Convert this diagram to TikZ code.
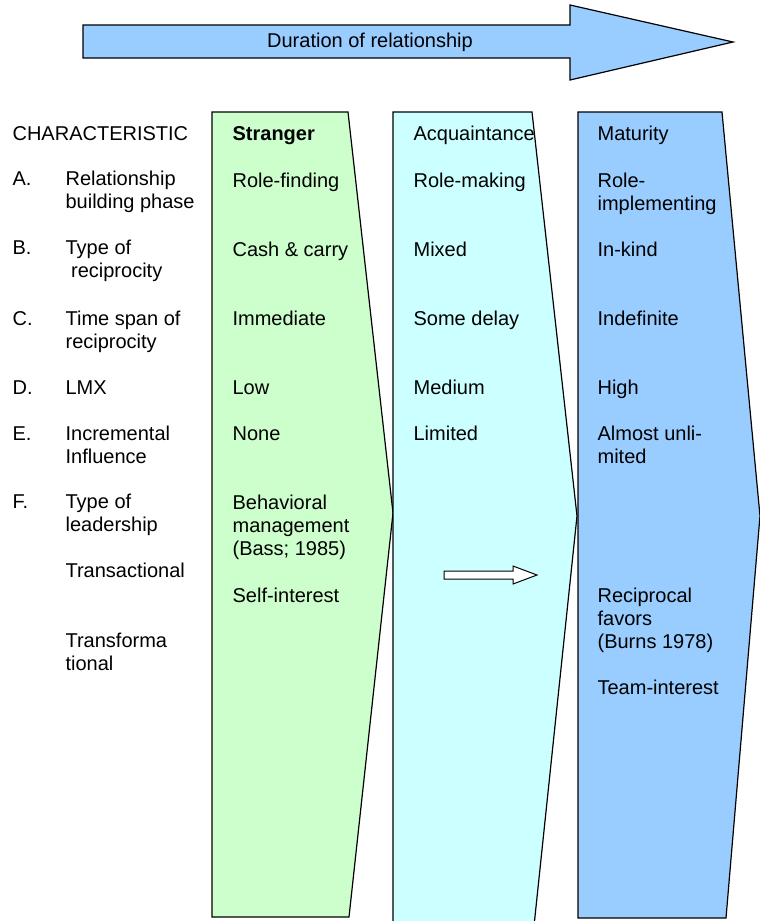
\documentclass[tikz,border=0pt]{standalone}
\usepackage{fontspec}
\setmainfont{Liberation Sans}
\usepackage{xcolor}
\usepackage{tikz}
\definecolor{strangergreen}{HTML}{CCFFCC}
\definecolor{acqcyan}{HTML}{CCFFFF}
\definecolor{matblue}{HTML}{99CCFF}

\begin{document}
\begin{tikzpicture}[x=1pt,y=-1pt,line width=1.2pt,line join=miter,
  lbl/.style={anchor=base west,align=left,inner sep=0pt,font=\fontsize{20}{23}\selectfont},
  phase/.style={draw=black,line width=1.2pt}]
\useasboundingbox (0,0) rectangle (760,921);

\filldraw[phase,fill=matblue] (83,25) -- (570,25) -- (570,5) -- (733,42) -- (570,80) -- (570,58) -- (83,58) -- cycle;
\node[lbl,anchor=center] (dur) at (370,42) {Duration of relationship};

\filldraw[phase,fill=strangergreen] (212,112) -- (348,112) -- (393,513) -- (349,917) -- (212,917) -- cycle;
\filldraw[phase,fill=acqcyan] (393,112) -- (532,112) -- (577,516) -- (534,926) -- (393,926) -- cycle;
\filldraw[phase,fill=matblue] (578,112) -- (722,112) -- (760,516) -- (726,918) -- (578,918) -- cycle;

\filldraw[phase,line width=1pt,fill=white] (444,571) -- (513,571) -- (513,566) -- (537,575) -- (513,584) -- (513,579) -- (444,579) -- cycle;

\node[lbl] (char) at (12,140) {CHARACTERISTIC};
\node[lbl] (a) at (12,185) {A.};
\node[lbl] (atxt) at (65,208) {Relationship\\building phase};
\node[lbl] (b) at (12,254) {B.};
\node[lbl] (btxt) at (65,277) {Type of\\\ reciprocity};
\node[lbl] (c) at (12,325) {C.};
\node[lbl] (ctxt) at (65,348) {Time span of\\reciprocity};
\node[lbl] (d) at (12,394) {D.};
\node[lbl] (dtxt) at (65,394) {LMX};
\node[lbl] (e) at (12,440) {E.};
\node[lbl] (etxt) at (65,463) {Incremental\\Influence};
\node[lbl] (f) at (12,508) {F.};
\node[lbl] (ftxt) at (65,531) {Type of\\leadership};
\node[lbl] (trans) at (65,577) {Transactional};
\node[lbl] (transf) at (65,670) {Transforma\\tional};

\node[lbl] (st) at (232,140) {\bfseries Stranger};
\node[lbl] (sta) at (232,187) {Role-finding};
\node[lbl] (stb) at (232,256) {Cash \& carry};
\node[lbl] (stc) at (232,325) {Immediate};
\node[lbl] (std) at (232,394) {Low};
\node[lbl] (ste) at (232,440) {None};
\node[lbl] (stf) at (232,555) {Behavioral\\management\\(Bass; 1985)};
\node[lbl] (stg) at (232,602) {Self-interest};

\node[lbl] (ac) at (413,140) {Acquaintance};
\node[lbl] (aca) at (413,187) {Role-making};
\node[lbl] (acb) at (413,256) {Mixed};
\node[lbl] (acc) at (413,325) {Some delay};
\node[lbl] (acd) at (413,394) {Medium};
\node[lbl] (ace) at (413,440) {Limited};

\node[lbl] (ma) at (597,140) {Maturity};
\node[lbl] (maa) at (597,210) {Role-\\implementing};
\node[lbl] (mab) at (597,256) {In-kind};
\node[lbl] (mac) at (597,325) {Indefinite};
\node[lbl] (mad) at (597,394) {High};
\node[lbl] (mae) at (597,463) {Almost unli-\\mited};
\node[lbl] (mag) at (597,648) {Reciprocal\\favors\\(Burns 1978)};
\node[lbl] (mah) at (597,694) {Team-interest};
\end{tikzpicture}
\end{document}
